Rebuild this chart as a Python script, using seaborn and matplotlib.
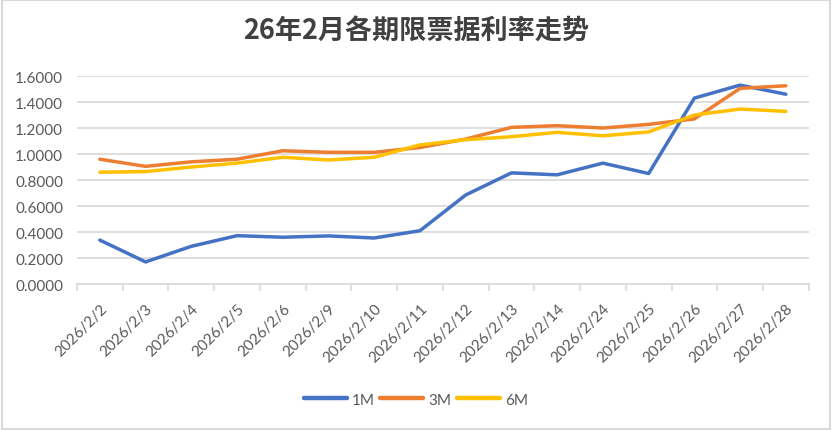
import matplotlib
matplotlib.use("Agg")
import matplotlib.pyplot as plt
import numpy as np
import pandas as pd
import seaborn as sns

# data
dates = ["2026/2/2", "2026/2/3", "2026/2/4", "2026/2/5", "2026/2/6", "2026/2/9",
         "2026/2/10", "2026/2/11", "2026/2/12", "2026/2/13", "2026/2/14",
         "2026/2/24", "2026/2/25", "2026/2/26", "2026/2/27", "2026/2/28"]
rate_1m = [0.338, 0.170, 0.290, 0.372, 0.360, 0.370, 0.354, 0.410,
           0.685, 0.855, 0.840, 0.930, 0.850, 1.430, 1.530, 1.460]
rate_3m = [0.960, 0.905, 0.940, 0.960, 1.025, 1.013, 1.013, 1.050,
           1.115, 1.205, 1.218, 1.200, 1.228, 1.270, 1.505, 1.525]
rate_6m = [0.860, 0.865, 0.900, 0.930, 0.975, 0.954, 0.975, 1.070,
           1.110, 1.133, 1.167, 1.140, 1.170, 1.300, 1.346, 1.328]
series = ["1M", "3M", "6M"]
colors = ["#4472C4", "#ED7D31", "#FFC000"]
y_ticks = [0.0, 0.2, 0.4, 0.6, 0.8, 1.0, 1.2, 1.4, 1.6]

df = pd.DataFrame({"date": dates, "1M": rate_1m, "3M": rate_3m, "6M": rate_6m})
long_df = df.melt(id_vars="date", var_name="期限", value_name="利率")

sns.set_theme(style="white")
plt.rcParams["font.family"] = ["Lato", "Noto Sans CJK SC", "DejaVu Sans"]

fig = plt.figure(figsize=(8.32, 4.31), dpi=100)
ax = fig.add_axes([0.0925, 0.3387, 0.8795, 0.4826])

sns.lineplot(data=long_df, x="date", y="利率", hue="期限", hue_order=series,
             palette=colors, linewidth=2.5, sort=False, ax=ax, legend=False)

grey = "#595959"
ax.set_xlim(-0.5, len(dates) - 0.5)
ax.set_ylim(0, 1.6)
ax.set_yticks(y_ticks)
ax.set_yticklabels([f"{v:.4f}" for v in y_ticks], color=grey, fontsize=11)
ax.yaxis.grid(True, color="#D9D9D9", linewidth=1.2)
ax.set_xticks(range(len(dates)))
ax.set_xticklabels(dates, rotation=45, ha="right", rotation_mode="anchor",
                   color=grey, fontsize=11)
ax.set_xticks(np.arange(-0.5, len(dates)), minor=True)
ax.tick_params(axis="x", which="major", length=0, pad=12)
ax.tick_params(axis="x", which="minor", length=5, width=1.2, color="#D9D9D9", bottom=True)
ax.tick_params(axis="y", length=0, pad=10)
ax.set_xlabel("")
ax.set_ylabel("")
for side in ["top", "right", "left"]:
    ax.spines[side].set_visible(False)
ax.spines["bottom"].set_color("#D9D9D9")
ax.spines["bottom"].set_linewidth(1.2)

fig.suptitle("26年2月各期限票据利率走势", y=0.958, fontsize=19.5, fontweight="bold",
             color="#404040", family=["Noto Sans CJK SC", "DejaVu Sans"])

handles = [plt.Line2D([], [], color=c, linewidth=3.2, solid_capstyle="round") for c in colors]
fig.legend(handles, series, loc="center", bbox_to_anchor=(0.5, 0.07), ncol=3,
           frameon=False, handlelength=2.8, handletextpad=0.35, columnspacing=0.35,
           prop={"size": 11}, labelcolor=grey)

# light frame round the whole chart
fig.patches.append(plt.Rectangle((0.002, 0.003), 0.996, 0.994, transform=fig.transFigure,
                                 fill=False, edgecolor="#D9D9D9", linewidth=1.5))

fig.savefig("out.png", dpi=100)
